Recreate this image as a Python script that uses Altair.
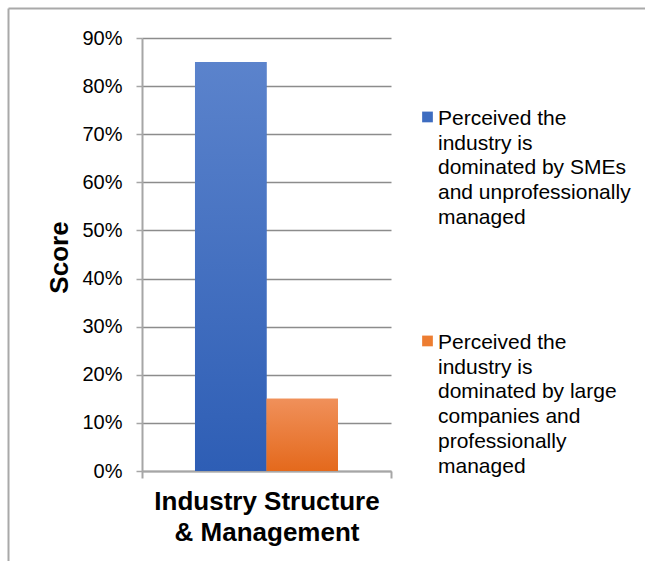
import json
import altair as alt
import pandas as pd

FONT = "Liberation Sans"

# ---- data -------------------------------------------------------------
categories = ["Industry Structure & Management"]
series = [
    "Perceived the industry is dominated by SMEs and unprofessionally managed",
    "Perceived the industry is dominated by large companies and professionally managed",
]
values = [0.85, 0.15]
legend_lines = [
    ["Perceived the", "industry is", "dominated by SMEs", "and unprofessionally", "managed"],
    ["Perceived the", "industry is", "dominated by large", "companies and", "professionally", "managed"],
]
category_lines = [["Industry Structure", "& Management"]]
y_ticks = [0, 0.1, 0.2, 0.3, 0.4, 0.5, 0.6, 0.7, 0.8, 0.9]
colors = ["#3D6CC0", "#ED7D31"]
grad_top = ["#5B83CC", "#F0905A"]
grad_bottom = ["#2E5EB5", "#E4691C"]

df = pd.DataFrame({
    "category": [categories[0]] * len(series),
    "series": series,
    "value": values,
})


def lines_expr(keys, lines):
    expr = json.dumps(lines[-1])
    for k, l in zip(reversed(keys[:-1]), reversed(lines[:-1])):
        expr = f"datum.label == {json.dumps(k)} ? {json.dumps(l)} : ({expr})"
    return expr


legend_expr = lines_expr(series, legend_lines)

AX = "#a6a6a6"
GRID = "#8c8c8c"

x_enc = alt.X(
    "category:N",
    sort=categories,
    title=category_lines[0],
    scale=alt.Scale(paddingInner=0, paddingOuter=0),
    axis=alt.Axis(
        labels=False,
        titleFont=FONT,
        titleFontSize=26,
        titleFontWeight="bold",
        titleColor="#000000",
        titleLineHeight=31,
        titleBaseline="top",
        titleAlign="center",
        titleX=124.5,
        titleY=17,
        tickBand="extent",
        tickSize=7,
        tickColor=AX,
        tickWidth=2,
        domainColor=AX,
        domainWidth=2,
        grid=False,
    ),
)
xoff_enc = alt.XOffset(
    "series:N", sort=series, scale=alt.Scale(paddingInner=0, paddingOuter=0.741)
)
y_enc = alt.Y(
    "value:Q",
    scale=alt.Scale(domain=[0, 0.9], nice=False),
    axis=alt.Axis(
        values=y_ticks,
        format=".0%",
        title="Score",
        titleFont=FONT,
        titleFontSize=26,
        titleFontWeight="bold",
        titleColor="#000000",
        titleAngle=270,
        titleAlign="center",
        titleBaseline="middle",
        titleX=-83,
        titleY=219,
        labelFont=FONT,
        labelFontSize=20,
        labelColor="#000000",
        labelPadding=14,
        tickSize=6,
        tickColor=AX,
        tickWidth=1.5,
        domainColor=AX,
        domainWidth=2,
        grid=True,
        gridColor=GRID,
        gridWidth=1.3,
    ),
)

base = alt.Chart(df)

bars = base.mark_bar().encode(
    x=x_enc,
    xOffset=xoff_enc,
    y=y_enc,
    color=alt.Color(
        "series:N",
        sort=series,
        scale=alt.Scale(domain=series, range=colors),
        legend=alt.Legend(
            title=None,
            orient="none",
            legendX=275,
            legendY=76.5,
            padding=0,
            symbolType="M-1,-2.5H1V-0.5H-1Z",
            symbolSize=115,
            symbolStrokeWidth=0,
            labelOffset=0,
            labelFont=FONT,
            labelFontSize=21,
            labelColor="#000000",
            labelLimit=400,
            labelBaseline="alphabetic",
            labelExpr=legend_expr,
            rowPadding=103,
        ),
    ),
)


def gradient(top, bottom):
    return {
        "gradient": "linear",
        "x1": 0, "y1": 0, "x2": 0, "y2": 1,
        "stops": [{"offset": 0, "color": top}, {"offset": 1, "color": bottom}],
    }


shade = base.mark_bar().encode(
    x=alt.X("category:N", sort=categories),
    xOffset=alt.XOffset("series:N", sort=series),
    y=alt.Y("value:Q"),
    fill=alt.condition(
        alt.datum.series == series[0],
        alt.value(gradient(grad_top[0], grad_bottom[0])),
        alt.value(gradient(grad_top[1], grad_bottom[1])),
    ),
)

frame_df = pd.DataFrame({"k": [0]})
frame_left = alt.Chart(frame_df).mark_rule(color="#a9a9a9", strokeWidth=2).encode(
    x=alt.value(-133.5), y=alt.value(-29.5), y2=alt.value(620)
)
frame_top = alt.Chart(frame_df).mark_rule(color="#a9a9a9", strokeWidth=2).encode(
    x=alt.value(-133.5), x2=alt.value(620), y=alt.value(-29.5)
)

chart = (
    alt.layer(bars, shade, frame_left, frame_top)
    .properties(
        width=249,
        height=433,
        autosize=alt.AutoSizeParams(type="none"),
        padding={"left": 142, "top": 38, "right": 254, "bottom": 90},
        background="white",
    )
    .configure(style={"guide-label": {"lineHeight": 24.7}})
    .configure_view(stroke=None)
)

chart.save("out.html", embed_options={"renderer": "svg", "actions": False})
